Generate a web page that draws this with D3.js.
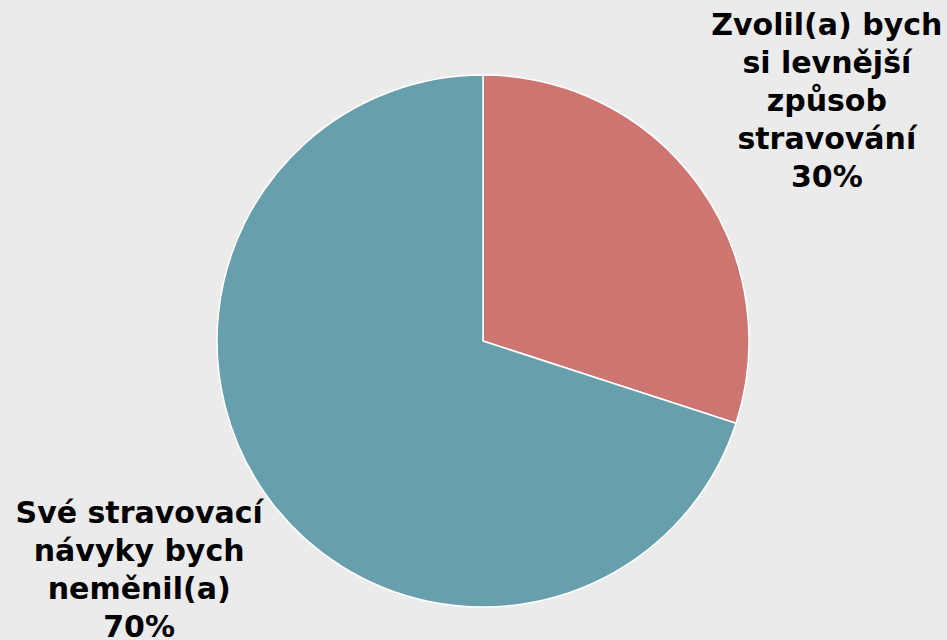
<!DOCTYPE html>
<html>
<head>
<meta charset="utf-8">
<script src="https://cdn.jsdelivr.net/npm/d3@7"></script>
<style>
  html, body { margin: 0; padding: 0; background: #ebebeb; }
  svg { display: block; }
</style>
</head>
<body>
<svg id="chart" width="947" height="640"></svg>
<script>
const categories = ["Zvolil(a) bych si levnější způsob stravování", "Své stravovací návyky bych neměnil(a)"];
const labelLines = [["Zvolil(a) bych", "si levnější", "způsob", "stravování"], ["Své stravovací", "návyky bych", "neměnil(a)"]];
const values = [30, 70];
const colors = ["#cd7571", "#689fac"];

const W = 947, H = 640;
const cx = 483, cy = 341, R = 266;
const labelR = 425, lineH = 38, fontSize = 30;

const svg = d3.select("#chart");
svg.append("rect").attr("width", W).attr("height", H).attr("fill", "#ebebeb");

const data = categories.map((c, i) => ({ cat: c, value: values[i], color: colors[i], lines: labelLines[i] }));
const pie = d3.pie().value(d => d.value).sort(null);
const arcs = pie(data);
const arc = d3.arc().innerRadius(0).outerRadius(R);

const g = svg.append("g").attr("transform", `translate(${cx},${cy})`);
g.selectAll("path").data(arcs).enter().append("path")
  .attr("d", arc)
  .attr("fill", d => d.data.color)
  .attr("stroke", "#ffffff")
  .attr("stroke-width", 1.5)
  .attr("stroke-linejoin", "round");

arcs.forEach(a => {
  const mid = (a.startAngle + a.endAngle) / 2;
  let x = cx + labelR * Math.sin(mid);
  let y = cy - labelR * Math.cos(mid);
  const lines = a.data.lines.concat([a.data.value + "%"]);
  const n = lines.length;
  let firstBase = y + 11 - (n - 1) * lineH / 2;
  const minFirst = 35, maxLast = 637;
  if (firstBase < minFirst) firstBase = minFirst;
  if (firstBase + (n - 1) * lineH > maxLast) firstBase = maxLast - (n - 1) * lineH;
  const t = svg.append("text")
    .attr("text-anchor", "middle")
    .attr("font-family", "'DejaVu Sans', Verdana, sans-serif")
    .attr("font-weight", "bold")
    .attr("font-size", fontSize)
    .attr("fill", "#000");
  lines.forEach((l, i) => {
    t.append("tspan").attr("x", x).attr("y", firstBase + i * lineH).text(l);
  });
});
</script>
</body>
</html>
